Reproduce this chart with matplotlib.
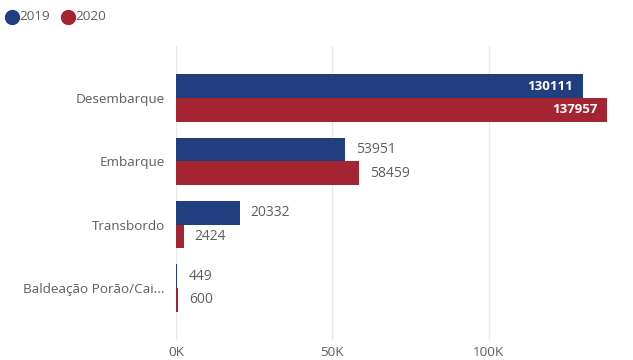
import matplotlib
matplotlib.use("Agg")
import matplotlib.pyplot as plt
from matplotlib.lines import Line2D

categories = ["Desembarque", "Embarque", "Transbordo", "Baldeação Porão/Cai..."]
values_2019 = [130111, 53951, 20332, 449]
values_2020 = [137957, 58459, 2424, 600]
series_names = ["2019", "2020"]
tick_values = [0, 50000, 100000]
tick_labels = ["0K", "50K", "100K"]

blue = "#203E80"
red = "#A52431"
text_grey = "#605E5C"

plt.rcParams["font.family"] = ["Open Sans", "DejaVu Sans"]

fig = plt.figure(figsize=(6.33, 3.6), dpi=100)
top_px, bot_px = 46, 340
ax = fig.add_axes([176 / 633, 1 - bot_px / 360, (620 - 176) / 633, (bot_px - top_px) / 360])

bar_h = 0.375
ys = list(range(len(categories)))
y1 = [y - bar_h / 2 for y in ys]
y2 = [y + bar_h / 2 for y in ys]
ax.barh(y1, values_2019, height=bar_h, color=blue, zorder=3)
ax.barh(y2, values_2020, height=bar_h, color=red, zorder=3)

xmax = 142000
ax.set_xlim(0, xmax)
ax.set_ylim(3.82, -0.82)

px = xmax / 444.0
for yy, vals in ((y1, values_2019), (y2, values_2020)):
    for y, v in zip(yy, vals):
        if v > 120000:
            ax.text(v - 10 * px, y, f"{v}", ha="right", va="center",
                    color="white", fontsize=9.5, fontweight="bold", zorder=4)
        else:
            ax.text(v + 11 * px, y, f"{v}", ha="left", va="center",
                    color=text_grey, fontsize=10, zorder=4)

ax.set_yticks(ys)
ax.set_yticklabels(categories, fontsize=9.7, color=text_grey)
ax.set_xticks(tick_values)
ax.set_xticklabels(tick_labels, fontsize=9.7, color=text_grey)
ax.tick_params(length=0)
ax.tick_params(axis="x", pad=4)
ax.tick_params(axis="y", pad=8)
ax.grid(axis="x", color="#E8E8E8", linewidth=1, zorder=0)
for s in ax.spines.values():
    s.set_visible(False)

# legend
for x0, col, name in ((12, blue, series_names[0]), (68, red, series_names[1])):
    fig.add_artist(Line2D([x0 / 633], [1 - 17 / 360], marker="o", markersize=10,
                          color=col, linestyle="none", transform=fig.transFigure))
    fig.text((x0 + 7) / 633, 1 - 17 / 360, name, ha="left", va="center",
             fontsize=9.7, color=text_grey)

fig.savefig("out.png", dpi=100)
